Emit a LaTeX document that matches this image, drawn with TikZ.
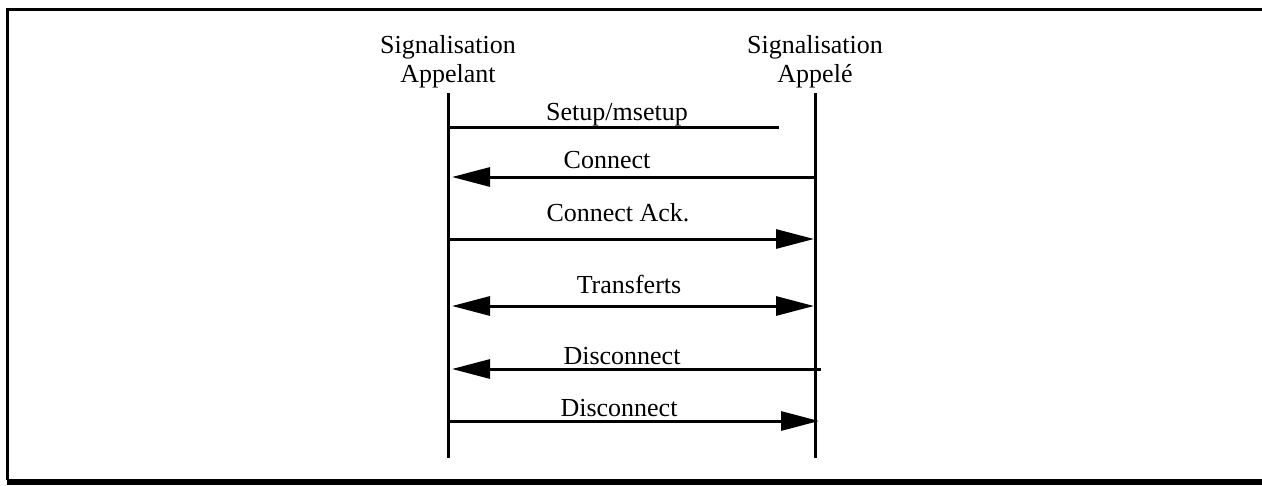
\documentclass[tikz,border=0pt]{standalone}
\usepackage{fontspec}
\setmainfont{Liberation Serif}
\usetikzlibrary{arrows.meta}
\begin{document}
\begin{tikzpicture}[x=1pt,y=-1pt,
  lbl/.style={anchor=base,inner sep=0pt,font=\fontsize{26}{29}\selectfont},
  hdr/.style={align=center,inner sep=0pt,font=\fontsize{26}{29}\selectfont},
  life/.style={line width=3pt},
  msg/.style={line width=3pt},
  tip/.style={-{Triangle[length=38pt,width=19pt]}},
  tipb/.style={{Triangle[length=38pt,width=19pt]}-{Triangle[length=38pt,width=19pt]}}
]
\useasboundingbox (0,0) rectangle (1262,485);
% frame
\draw[line width=3pt] (7.5,480) -- (7.5,9.5) -- (1262,9.5);
\draw[line width=6pt] (7,482) -- (1262,482);
% headers
\node[hdr] (hA) at (448,62) {Signalisation\\Appelant};
\node[hdr] (hB) at (815,62) {Signalisation\\Appel\'e};
% lifelines
\coordinate (aT) at (448,93);
\coordinate (aB) at (448,458);
\coordinate (bT) at (815,93);
\coordinate (bB) at (815,458);
\draw[life] (aT) -- (aB);
\draw[life] (bT) -- (bB);
% message endpoints
\coordinate (m1a) at (448,127); \coordinate (m1b) at (779,127);
\coordinate (m2a) at (452,177); \coordinate (m2b) at (815,177);
\coordinate (m3a) at (448,239); \coordinate (m3b) at (814,239);
\coordinate (m4a) at (452,306); \coordinate (m4b) at (814,306);
\coordinate (m5a) at (452,369); \coordinate (m5b) at (821,369);
\coordinate (m6a) at (448,421); \coordinate (m6b) at (819,421);
\draw[msg] (m1a) -- (m1b);
\draw[msg,tip] (m2b) -- (m2a);
\draw[msg,tip] (m3a) -- (m3b);
\draw[msg,tipb] (m4a) -- (m4b);
\draw[msg,tip] (m5b) -- (m5a);
\draw[msg,tip] (m6a) -- (m6b);
% labels
\node[lbl] (l1) at (617,120) {Setup/msetup};
\node[lbl] (l2) at (607,168) {Connect};
\node[lbl] (l3) at (618,221) {Connect Ack.};
\node[lbl] (l4) at (629,293) {Transferts};
\node[lbl] (l5) at (622,364) {Disconnect};
\node[lbl] (l6) at (619,416) {Disconnect};
\end{tikzpicture}
\end{document}
